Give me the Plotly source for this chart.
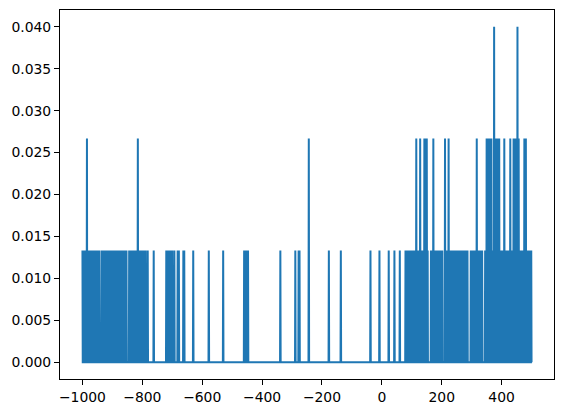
import numpy as np
import plotly.graph_objects as go

# value grid (integers from -1000 to 500), frequencies are counts / 75
x_start, x_end = -1000, 500
n_total = 75

# positions where the count is 1
ones = [
    -1000, -997, -994, -991, -988, -982, -979,
    -973, -970, -967, -964, -961, -958, -955, -952, -949, -946, -943,
    -935, -932, -929, -926, -923, -920, -917, -914, -909, -906, -903, -900,
    -897, -894, -891, -888, -885, -882, -879, -876, -873, -870, -867,
    -862, -859, -856, -853, -844, -841, -838, -835, -829, -826, -822,
    -818, -812, -807, -804, -801, -798, -795, -792, -789, -782, -762,
    -720, -714, -708, -704, -700, -693, -682, -678, -663, -660, -630,
    -578, -530, -460, -456, -452, -447, -339, -289, -278, -275,
    -177, -137, -38, -8, 23, 42, 60,
    79, 82, 85, 88, 91, 94, 97, 100, 103, 106, 109, 112, 118, 121, 124,
    131, 134, 137, 153, 164, 167, 175, 178, 181, 184, 187, 190, 193, 196,
    199, 202, 214, 217, 220, 226, 229, 232, 235, 238, 241, 244, 247, 250,
    253, 256, 259, 262, 265, 268, 271, 274, 277, 280, 283, 286, 297, 300,
    303, 306, 309, 312, 314, 320, 323, 326, 329, 332, 335, 345, 347, 369,
    372, 378, 395, 398, 401, 404, 412, 415, 418, 421, 424, 432, 435, 460,
    463, 466, 469, 472, 484, 487, 490, 493, 496, 499,
]
# positions where the count is 2
twos = [-985, -815, -244, 115, 128, 142, 146, 150, 172, 211, 223, 317,
        350, 354, 358, 362, 366, 381, 385, 389, 392, 409, 429, 440, 444,
        448, 457, 476, 481]
# positions where the count is 3
threes = [375, 453]

x = np.arange(x_start, x_end + 1)
y = np.zeros(len(x))
for k in ones:
    y[k - x_start] = 1 / n_total
for k in twos:
    y[k - x_start] = 2 / n_total
for k in threes:
    y[k - x_start] = 3 / n_total

x_ticks = [-1000, -800, -600, -400, -200, 0, 200, 400]
y_ticks = [0.0, 0.005, 0.01, 0.015, 0.02, 0.025, 0.03, 0.035, 0.04]

fig = go.Figure()
fig.add_trace(
    go.Scatter(
        x=x,
        y=y,
        mode="lines",
        line=dict(color="#1f77b4", width=2, simplify=False),
        hoverinfo="x+y",
    )
)

axis_style = dict(
    showgrid=False,
    zeroline=False,
    showline=True,
    mirror=True,
    linecolor="black",
    linewidth=1.1,
    ticks="outside",
    ticklen=5,
    tickwidth=1.1,
    tickcolor="black",
    automargin=False,
    tickfont=dict(family="DejaVu Sans", size=13.9, color="black"),
)

fig.update_xaxes(
    range=[-1075, 575],
    tickvals=x_ticks,
    ticktext=[str(v).replace("-", "\u2212") for v in x_ticks],
    **axis_style,
)
fig.update_yaxes(
    range=[-0.002, 0.042],
    tickvals=y_ticks,
    ticktext=[f"{v:.3f}" for v in y_ticks],
    **axis_style,
)

fig.update_layout(
    width=565,
    height=413,
    showlegend=False,
    plot_bgcolor="white",
    paper_bgcolor="white",
    margin=dict(l=60, r=11, t=10, b=34),
)

# drop the default page margin so the figure sits at the window corner
fig.write_html(
    "out.html",
    config={"displayModeBar": False},
    post_script="document.body.style.margin = '0';",
)
